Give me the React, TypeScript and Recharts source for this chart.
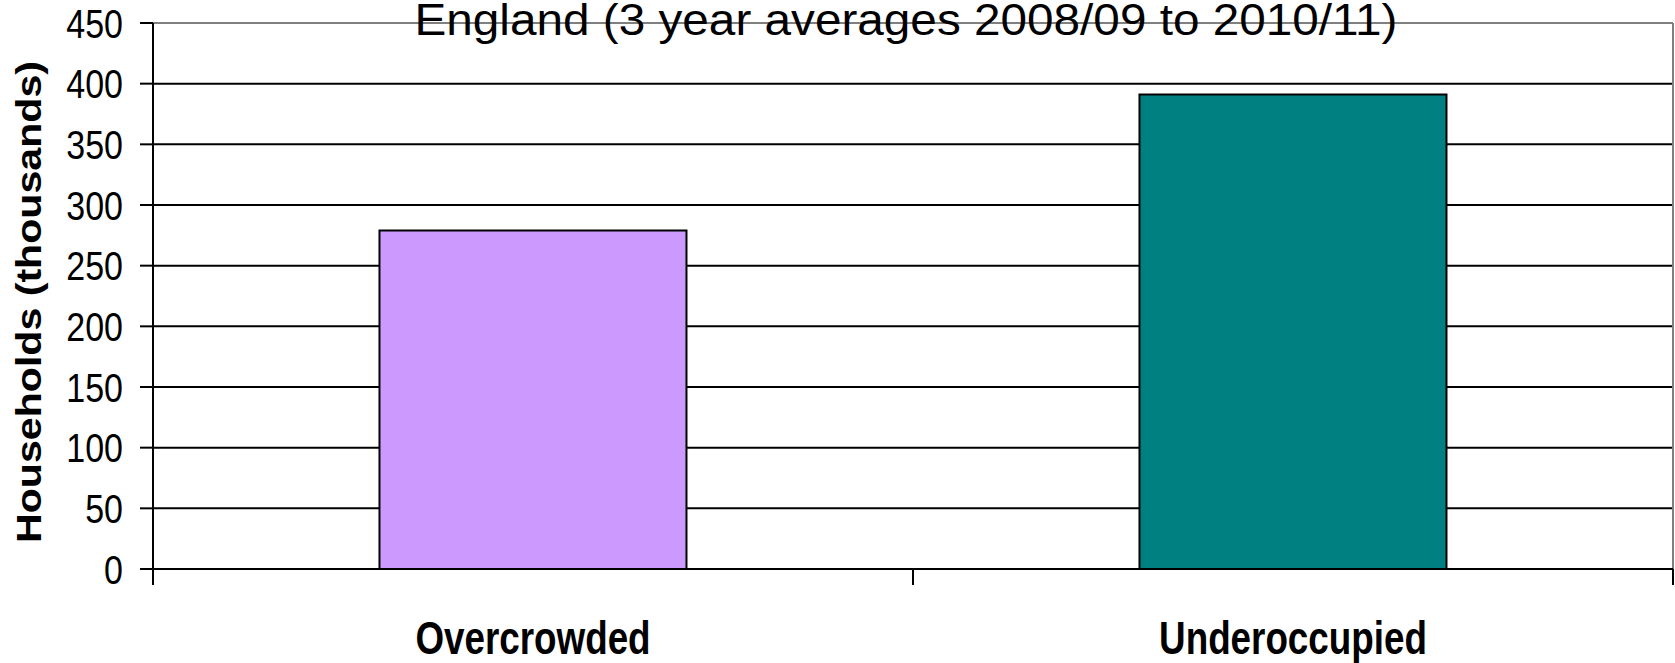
import { Bar, BarChart, CartesianGrid, Cell, ReferenceLine, XAxis, YAxis } from "recharts";

const categories = ["Overcrowded", "Underoccupied"];
const households = [279, 391];
const barColors = ["#CC99FF", "#008080"];
const yTicks = [0, 50, 100, 150, 200, 250, 300, 350, 400, 450];
const chartTitle = "England (3 year averages 2008/09 to 2010/11)";
const yAxisTitle = "Households (thousands)";

const W = 1675;
const H = 663;
const Y_AXIS_W = 153;
const X_AXIS_H = 94;
const MARGIN = { top: 23, right: 2, bottom: 0, left: 0 };
const PLOT_W = W - MARGIN.left - MARGIN.right - Y_AXIS_W;
const FONT = "'Liberation Sans', Arial, Helvetica, sans-serif";

const data = categories.map((name, i) => ({ name, value: households[i] }));

function YTick(props: any) {
  const { x, y, payload } = props;
  return (
    <g transform={`translate(${x},${y}) scale(0.85,1)`}>
      <text x={0} y={0} dy={14.5} textAnchor="end" fontSize={40} fontFamily={FONT} fill="#000">
        {payload.value}
      </text>
    </g>
  );
}

// category labels sit in the middle of each band, tick marks on the band edges
function XTick(props: any) {
  const { x, y, payload, index, visibleTicksCount, width } = props;
  const half = (width || PLOT_W) / categories.length / 2;
  const last = index === visibleTicksCount - 1;
  return (
    <g>
      <line x1={x - half} x2={x - half} y1={y} y2={y + 16} stroke="#000" strokeWidth={2} />
      {last && <line x1={x + half} x2={x + half} y1={y} y2={y + 16} stroke="#000" strokeWidth={2} />}
      <g transform={`translate(${x},${y + 85}) scale(0.8,1)`}>
        <text x={0} y={0} textAnchor="middle" fontSize={46} fontWeight="bold" fontFamily={FONT} fill="#000">
          {payload.value}
        </text>
      </g>
    </g>
  );
}

function YLabel(props: any) {
  const vb = props.viewBox;
  const cx = vb.x + 41;
  const cy = vb.y + vb.height / 2 + 6;
  return (
    <text
      x={cx}
      y={cy}
      transform={`rotate(-90, ${cx}, ${cy})`}
      textAnchor="middle"
      fontSize={35}
      fontWeight="bold"
      fontFamily={FONT}
      fill="#000"
      textLength={482}
      lengthAdjust="spacingAndGlyphs"
    >
      {yAxisTitle}
    </text>
  );
}

export default function App() {
  return (
    <div style={{ position: "relative", width: W, height: H, background: "#fff" }}>
      <style>{"body{margin:0;}"}</style>
      <BarChart width={W} height={H} data={data} margin={MARGIN} barCategoryGap="29.8%">
        <CartesianGrid
          stroke="#000"
          strokeWidth={2}
          vertical={(p: any) => (
            <line key={p.key} x1={p.x1} y1={p.y1} x2={p.x2} y2={p.y2} stroke="#808080" strokeWidth={2} />
          )}
          verticalCoordinatesGenerator={({ offset }: any) => [offset.left + offset.width]}
        />
        <XAxis
          dataKey="name"
          height={X_AXIS_H}
          axisLine={{ stroke: "#000", strokeWidth: 2 }}
          tickLine={false}
          tickSize={0}
          tickMargin={0}
          tick={<XTick />}
          interval={0}
        />
        <YAxis
          width={Y_AXIS_W}
          domain={[0, 450]}
          ticks={yTicks}
          interval={0}
          axisLine={{ stroke: "#000", strokeWidth: 2 }}
          tickLine={{ stroke: "#000", strokeWidth: 2 }}
          tickSize={13}
          tickMargin={17}
          tick={<YTick />}
          label={{ content: <YLabel /> }}
        />
        <ReferenceLine y={450} stroke="#808080" strokeWidth={2} />
        <Bar dataKey="value" stroke="#000" strokeWidth={2} isAnimationActive={false}>
          {data.map((d, i) => (
            <Cell key={d.name} fill={barColors[i]} />
          ))}
        </Bar>
      </BarChart>
      <svg
        width={W}
        height={H}
        style={{ position: "absolute", left: 0, top: 0, pointerEvents: "none" }}
      >
        <text
          x={906}
          y={35}
          textAnchor="middle"
          fontSize={45}
          fontFamily={FONT}
          fill="#000"
          textLength={983}
          lengthAdjust="spacingAndGlyphs"
        >
          {chartTitle}
        </text>
      </svg>
    </div>
  );
}
